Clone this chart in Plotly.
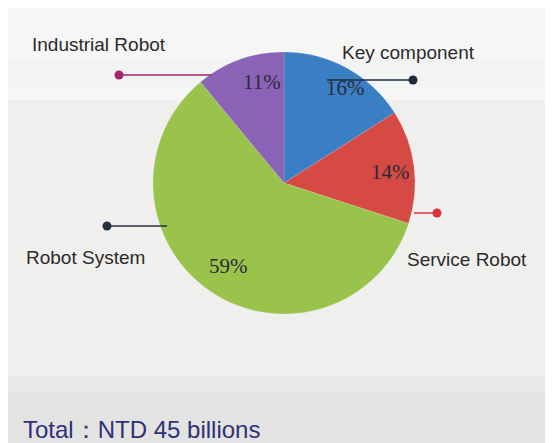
import plotly.graph_objects as go

W, H = 553, 443
OFF = 8  # page body margin
FW, FH = W - OFF, H - OFF

# Data
categories = ["Key component", "Service Robot", "Robot System", "Industrial Robot"]
shares = [16, 14, 59, 11]
colors = ["#3a7fc4", "#d54a43", "#99c34b", "#8a63b7"]
total_label = "Total：NTD 45 billions"

def px(x):
    return (x - OFF) / FW

def py(y):
    return 1 - (y - OFF) / FH

fig = go.Figure()
fig.add_trace(go.Pie(
    labels=categories,
    values=shares,
    marker=dict(colors=colors, line=dict(color="rgba(255,255,255,0.25)", width=0.5)),
    sort=False,
    direction="clockwise",
    rotation=0,
    textinfo="none",
    hoverinfo="label+percent",
    showlegend=False,
    domain=dict(x=[px(153), px(415)], y=[py(323), py(43)]),
))

shapes = []
# background bands
shapes.append(dict(type="rect", xref="paper", yref="paper", x0=0, x1=1, y0=py(100), y1=1,
                   fillcolor="#f6f6f4", line_width=0, layer="below"))
shapes.append(dict(type="rect", xref="paper", yref="paper", x0=0, x1=1, y0=py(58), y1=py(88),
                   fillcolor="#f1f4f3", line_width=0, layer="below"))
shapes.append(dict(type="rect", xref="paper", yref="paper", x0=0, x1=1, y0=0, y1=py(376),
                   fillcolor="#e3e3e1", line_width=0, layer="below"))
shapes.append(dict(type="rect", xref="paper", yref="paper", x0=0, x1=1, y0=py(376), y1=py(392),
                   fillcolor="#e8e8e6", line_width=0, layer="below"))

# callouts: (line start x, line end x, y, color)
callouts = [
    (119, 212, 75, "#a3266f"),
    (327, 413, 80, "#1f2b3b"),
    (414, 437, 213, "#d9323d"),
    (107, 167, 226, "#263241"),
]
dot_x = [119, 413, 437, 107]
for (x0, x1, y, c), dx in zip(callouts, dot_x):
    shapes.append(dict(type="line", xref="paper", yref="paper", x0=px(x0), x1=px(x1),
                       y0=py(y), y1=py(y), line=dict(color=c, width=1.5)))
    shapes.append(dict(type="circle", xref="paper", yref="paper",
                       xsizemode="pixel", ysizemode="pixel",
                       xanchor=px(dx), yanchor=py(y), x0=-4.5, x1=4.5, y0=-4.5, y1=4.5,
                       fillcolor=c, line_width=0))

annotations = []
# category labels
label_pos = {
    "Industrial Robot": (30, 45),
    "Key component": (340, 52),
    "Robot System": (24, 257),
    "Service Robot": (405, 259),
}
for name in categories:
    x, y = label_pos[name]
    annotations.append(dict(text=name, x=px(x), y=py(y), xref="paper", yref="paper",
                            xanchor="left", yanchor="middle", showarrow=False,
                            font=dict(family="Liberation Sans, Arial", size=19, color="#2b2b2b")))

# percentage labels
pct_pos = [(345, 88), (390, 172), (228, 266), (262, 82)]
for v, (x, y) in zip(shares, pct_pos):
    annotations.append(dict(text=f"{v}%", x=px(x), y=py(y), xref="paper", yref="paper",
                            xanchor="center", yanchor="middle", showarrow=False,
                            font=dict(family="Liberation Serif, Times New Roman", size=21,
                                      color="#2a2a3a")))

annotations.append(dict(text=total_label, x=px(21), y=py(429), xref="paper", yref="paper",
                        xanchor="left", yanchor="middle", showarrow=False,
                        font=dict(family="Liberation Sans, Arial", size=24, color="#31307a")))

fig.update_layout(
    width=FW, height=FH,
    margin=dict(l=0, r=0, t=0, b=0),
    paper_bgcolor="#efefed",
    plot_bgcolor="#efefed",
    shapes=shapes,
    annotations=annotations,
)

fig.write_html("out.html")
